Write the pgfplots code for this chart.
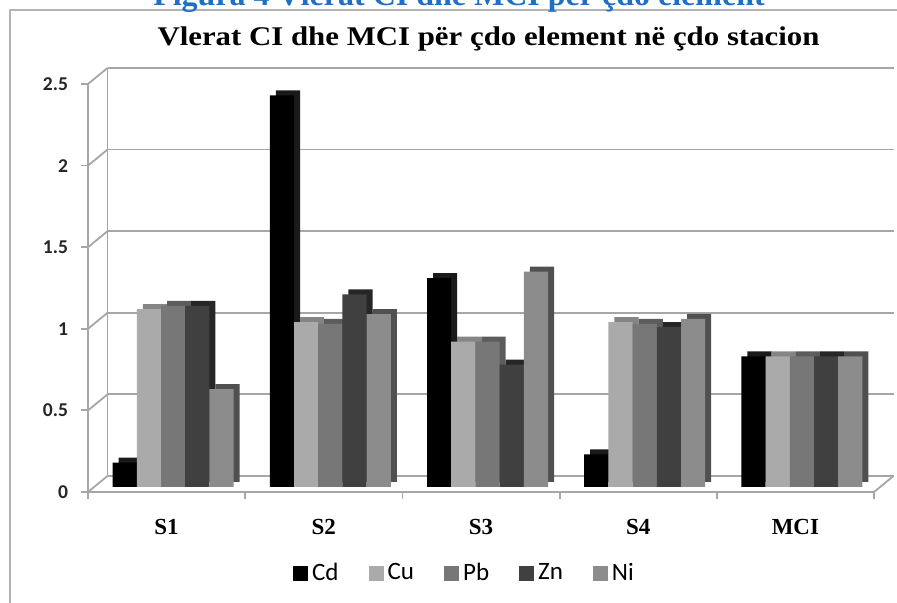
\documentclass[border=0pt]{standalone}
\usepackage{fontspec}
\setmainfont{Liberation Serif}
\newfontfamily\carlito{Carlito}
\usepackage{graphicx}
\usepackage{pgfplots}
\usepackage{pgfplotstable}
\pgfplotsset{compat=1.18}

\definecolor{cCd}{HTML}{000000}
\definecolor{cCu}{HTML}{AAAAAA}
\definecolor{cPb}{HTML}{777777}
\definecolor{cZn}{HTML}{404040}
\definecolor{cNi}{HTML}{8C8C8C}
\definecolor{sCd}{HTML}{1A1A1A}
\definecolor{sCu}{HTML}{858585}
\definecolor{sPb}{HTML}{5C5C5C}
\definecolor{sZn}{HTML}{262626}
\definecolor{sNi}{HTML}{505050}
\definecolor{gridgray}{HTML}{A6A6A6}
\definecolor{headblue}{HTML}{1F6FC4}

\pgfplotstableread{
x Cd Cu Pb Zn Ni
0 0.15 1.09 1.11 1.11 0.60
1 2.40 1.01 1.00 1.18 1.06
2 1.28 0.89 0.89 0.75 1.32
3 0.20 1.01 1.00 0.98 1.03
4 0.80 0.80 0.80 0.80 0.80
}\datatable

\pgfplotsset{
  base/.style={scale only axis, width=393pt, height=204pt,
    xmin=-0.5, xmax=4.5, ymin=0, ymax=2.5, anchor=south west, clip=false},
  sq/.style={legend image code/.code={\fill[##1,draw=none] (-2pt,-3.75pt) rectangle (5.5pt,3.75pt);}},
}

\begin{document}
\begin{tikzpicture}
% chart frame
\draw[gridgray!85, line width=1pt] (5pt,-5pt) -- (5pt,296.5pt) -- (455pt,296.5pt);

% back wall
\begin{axis}[base, at={(53.75pt,63.5pt)},
  axis x line=none, axis y line*=left,
  y axis line style={gridgray, line width=0.9pt, -},
  xtick=\empty, ytick={0,0.5,1,1.5,2,2.5}, yticklabels={},
  major tick length=0pt,
  ymajorgrids, grid style={gridgray, line width=0.9pt}]
\end{axis}

% front frame axis
\begin{axis}[base, at={(44pt,55.5pt)},
  axis x line*=bottom, axis y line*=left,
  axis line style={gridgray, line width=0.9pt, -},
  tick style={gridgray, line width=0.9pt},
  tick align=outside, major tick length=3.5pt,
  xtick={-0.5,0.5,1.5,2.5,3.5,4.5}, xticklabels={,,,,,},
  extra x ticks={0,1,2,3,4},
  extra x tick labels={S1,S2,S3,S4,MCI},
  extra x tick style={major tick length=0pt,
    tick label style={font=\bfseries\fontsize{11.5}{13}\selectfont, anchor=center, yshift=-17.5pt}},
  ytick={0,0.5,1,1.5,2,2.5}, yticklabels={0,0.5,1,1.5,2,2.5},
  yticklabel style={font=\carlito\bfseries\fontsize{9.8}{11}\selectfont, text=black!85, xshift=-3pt},
  ]
\pgfplotsinvokeforeach{0,0.5,1,1.5,2,2.5}{\draw[gridgray, line width=0.9pt] (axis cs:-0.5,#1) -- ++(9.75pt,8pt);}
\draw[gridgray, line width=0.9pt] (axis cs:4.5,0) -- ++(9.75pt,8pt);
\end{axis}

% bar depth (top and side faces)
\begin{axis}[base, at={(50.25pt,60.5pt)}, hide axis, ybar=0pt, bar width=12.1pt]
\addplot[fill=sCd, draw=none] table[x=x,y=Cd]{\datatable};
\addplot[fill=sCu, draw=none] table[x=x,y=Cu]{\datatable};
\addplot[fill=sPb, draw=none] table[x=x,y=Pb]{\datatable};
\addplot[fill=sZn, draw=none] table[x=x,y=Zn]{\datatable};
\addplot[fill=sNi, draw=none] table[x=x,y=Ni]{\datatable};
\end{axis}

% bar front faces
\begin{axis}[base, at={(47.25pt,58pt)}, hide axis, ybar=0pt, bar width=12.1pt,
  legend columns=5,
  legend style={draw=none, fill=none, at={(0.472,-0.211)}, anchor=center,
    font=\carlito\fontsize{12.5}{14}\selectfont,
    /tikz/every even column/.append style={column sep=13pt}}]
\addplot[fill=cCd, draw=none, sq] table[x=x,y=Cd]{\datatable};
\addlegendentry{Cd}
\addplot[fill=cCu, draw=none, sq] table[x=x,y=Cu]{\datatable};
\addlegendentry{Cu}
\addplot[fill=cPb, draw=none, sq] table[x=x,y=Pb]{\datatable};
\addlegendentry{Pb}
\addplot[fill=cZn, draw=none, sq] table[x=x,y=Zn]{\datatable};
\addlegendentry{Zn}
\addplot[fill=cNi, draw=none, sq] table[x=x,y=Ni]{\datatable};
\addlegendentry{Ni}
\end{axis}

% titles
\node[anchor=base, inner sep=0pt] at (244.25pt,278.5pt)
  {\scalebox{1.142}[1]{\bfseries\fontsize{13.5}{16}\selectfont Vlerat CI dhe MCI për çdo element në çdo stacion}};
\node[anchor=base, inner sep=0pt, text=headblue, font=\bfseries\fontsize{16}{18}\selectfont] at (229.5pt,298.5pt)
  {Figura 4 Vlerat CI dhe MCI për çdo element};

\pgfresetboundingbox
\useasboundingbox (0pt,0pt) rectangle (448.5pt,301.5pt);
\end{tikzpicture}
\end{document}
